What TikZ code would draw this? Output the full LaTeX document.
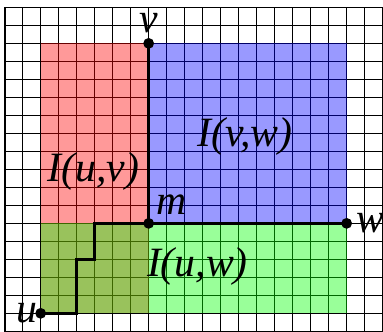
\documentclass[tikz,border=0pt]{standalone}
\usepackage{fontspec}
\setmainfont{Liberation Serif}
\usetikzlibrary{positioning}

\begin{document}
\begin{tikzpicture}[x=0.5cm, y=0.5cm,
    ponto/.style={circle, fill=black, inner sep=0pt, minimum size=0.3cm},
    rotulo/.style={font=\fontsize{33}{40}\selectfont\itshape, inner sep=0pt},
    regiao/.style={fill opacity=0.4}]

    % Area visivel
    \clip (-0.26,0) rectangle (21.02,18.41);

    % Malha
    \draw[line width=1.3pt, step=0.5cm] (0,-1) grid (22,18);

    % Regioes I(u,v), I(v,w) e I(u,w)
    \fill[red, regiao] (2,1) rectangle (8,16);
    \fill[blue, regiao] (8,6) rectangle (19,16);
    \fill[green, regiao] (2,1) rectangle (19,6);

    % Vertices
    \node[ponto] (u) at (2,1) {};
    \node[ponto] (v) at (8,16) {};
    \node[ponto] (m) at (8,6) {};
    \node[ponto] (w) at (19,6) {};

    % Caminhos (espessura maior)
    \draw[line width=2.4pt] (u.center) -- ++(2,0) -- ++(0,3) -- ++(1,0) |- (m.center) -- (w.center);
    \draw[line width=2.4pt] (v.center) -- (m.center);

    % Nomes dos vertices
    \node[rotulo, above=0.13cm of v] (rv) {v};
    \node[rotulo, above right=0.12cm and 0.11cm of m] (rm) {m};
    \node[rotulo, right=0.1cm of w] (rw) {w};
    \node[rotulo, left=-0.08cm of u] (ru) {u};

    % Nomes das regioes
    \node[rotulo] (iuv) at (4.93,8.91) {I(u,v)};
    \node[rotulo] (ivw) at (13.35,10.82) {I(v,w)};
    \node[rotulo] (iuw) at (10.71,3.63) {I(u,w)};

\end{tikzpicture}
\end{document}
